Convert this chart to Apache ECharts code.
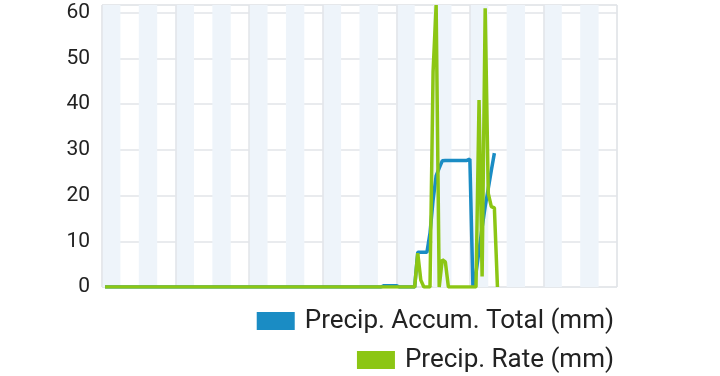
<!DOCTYPE html>
<html>
<head>
<meta charset="utf-8">
<script src="https://cdn.jsdelivr.net/npm/echarts@6/dist/echarts.min.js"></script>
<style>
html,body{margin:0;padding:0;background:#fff;}
#chart{width:720px;height:376px;}
</style>
</head>
<body>
<div id="chart"></div>
<script>
// Hourly readings, first reading at hour 1 of a 168-hour (7-day) window
var firstHour = 1;
var seriesNames = ['Precip. Accum. Total (mm)', 'Precip. Rate (mm)'];
var yTicks = [0, 10, 20, 30, 40, 50, 60];
var accumTotal = [
  0,0,0,0,0,0,0,0,0,0, 0,0,0,0,0,0,0,0,0,0,
  0,0,0,0,0,0,0,0,0,0, 0,0,0,0,0,0,0,0,0,0,
  0,0,0,0,0,0,0,0,0,0, 0,0,0,0,0,0,0,0,0,0,
  0,0,0,0,0,0,0,0,0,0, 0,0,0,0,0,0,0,0,0,0,
  0,0,0,0,0,0,0,0,0,0, 0,0.3,0.3,0.3,0.3,0.3,0,0,0,0,
  0,0,7.6,7.6,7.6,7.6,11.8,19,24.3,26,
  27.6,27.7,27.7,27.7,27.7,27.7,27.7,27.7,27.7,28,
  0,3,8,13,17.6,21.5,25.5,29.3
];
var precipRate = [
  0,0,0,0,0,0,0,0,0,0, 0,0,0,0,0,0,0,0,0,0,
  0,0,0,0,0,0,0,0,0,0, 0,0,0,0,0,0,0,0,0,0,
  0,0,0,0,0,0,0,0,0,0, 0,0,0,0,0,0,0,0,0,0,
  0,0,0,0,0,0,0,0,0,0, 0,0,0,0,0,0,0,0,0,0,
  0,0,0,0,0,0,0,0,0,0, 0,0,0,0,0,0,0,0,0,0,
  0,0,7.4,1.5,0,0,0,47,61.7,0,
  6,5.5,0,0,0,0,0,0,0,0,
  0,0,40.9,2.3,61,20.5,17.6,17.3,0
];

function toPoints(arr){ return arr.map(function(v,i){ return [firstHour + i, v]; }); }

var blue = '#1a8cc4';
var green = '#8cc614';
var gridGray = '#e2e5e9';
var textColor = '#222';
var chart = echarts.init(document.getElementById('chart'), null, {renderer:'canvas'});
chart.setOption({
  animation: false,
  backgroundColor: '#ffffff',
  grid: {left: 102, right: 103, top: 5, bottom: 89, show: true, borderColor: gridGray, borderWidth: 1, backgroundColor: 'transparent'},
  legend: [
    {data: [seriesNames[0]], right: 101, top: 303, icon: 'rect', itemWidth: 38, itemHeight: 18,
     textStyle: {fontFamily: 'Roboto', fontSize: 26, color: textColor, padding: [0,0,0,5]}},
    {data: [seriesNames[1]], right: 101, top: 342, icon: 'rect', itemWidth: 38, itemHeight: 18,
     textStyle: {fontFamily: 'Roboto', fontSize: 26, color: textColor, padding: [0,0,0,5]}}
  ],
  xAxis: [
    {type: 'value', min: 0, max: 168, interval: 6,
     axisLabel: {show: false}, axisLine: {show: false}, axisTick: {show: false},
     splitLine: {show: false},
     splitArea: {show: true, areaStyle: {color: ['#eef4fa', 'rgba(255,255,255,0)']}}},
    {type: 'value', min: 0, max: 168, interval: 24, position: 'bottom',
     axisLabel: {show: false}, axisLine: {show: false}, axisTick: {show: false},
     splitLine: {show: true, lineStyle: {color: gridGray, width: 1.5}}}
  ],
  yAxis: {
    type: 'value', min: 0, max: 61.7, interval: 10,
    axisLine: {show: false}, axisTick: {show: false},
    axisLabel: {margin: 12, fontFamily: 'Roboto', fontSize: 21, color: textColor,
      formatter: function(v){ return yTicks.indexOf(v) >= 0 ? String(v) : ''; }},
    splitLine: {show: true, lineStyle: {color: gridGray, width: 1.5}}
  },
  series: [
    {name: seriesNames[0], type: 'line', xAxisIndex: 0, data: toPoints(accumTotal),
     showSymbol: false, symbol: 'none', lineStyle: {width: 3.5, color: blue}, itemStyle: {color: blue}},
    {name: seriesNames[1], type: 'line', xAxisIndex: 0, data: toPoints(precipRate),
     showSymbol: false, symbol: 'none', lineStyle: {width: 3.5, color: green}, itemStyle: {color: green}}
  ]
});
</script>
</body>
</html>
